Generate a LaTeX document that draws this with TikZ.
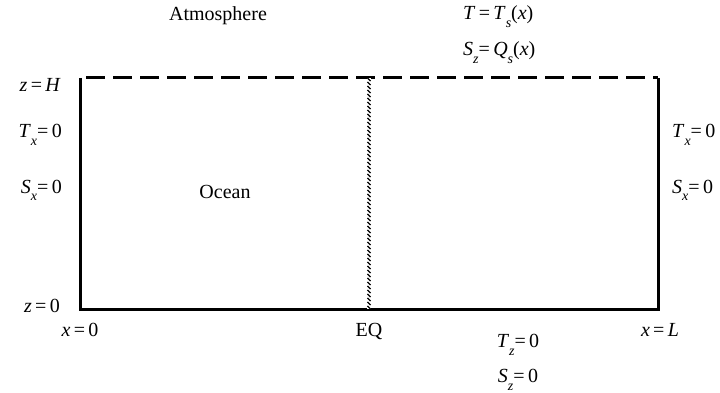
\documentclass[tikz,border=0pt]{standalone}
\usepackage{fontspec}
\setmainfont{Liberation Serif}
\usepackage{tikz}
\usetikzlibrary{positioning}
\newcommand{\vr}[1]{\textit{#1}}
\newcommand{\lowsub}[1]{\raisebox{-0.4em}{\fontsize{14}{14}\selectfont\itshape #1}}
\tikzstyle{lbl} = [inner sep=0pt, font=\fontsize{20}{24}\selectfont]
\tikzstyle{wall} = [line width=3pt, line join=miter]
\tikzstyle{surface} = [line width=3pt, dash pattern=on 19pt off 8pt, dash phase=-6pt]
\tikzstyle{rope} = [line width=1.2pt]

\begin{document}
\begin{tikzpicture}[x=1pt, y=-1pt]
    \useasboundingbox (0,0) rectangle (720,393);
    % Box corners
    \coordinate (nw) at (80,78);
    \coordinate (ne) at (658,78);
    \coordinate (sw) at (80,309);
    \coordinate (se) at (658,309);
    \coordinate (eqtop) at (369,78);
    \coordinate (eqbot) at (369,309);

    % Walls and surface
    \draw [wall] (nw) -- (sw) -- (se) -- (ne);
    \draw [surface] (nw) -- (ne);
    \fill [white] ([xshift=-2.2pt]eqtop) rectangle ([xshift=2.2pt]eqbot);
    \foreach \y in {0,4,...,228}
        \draw [rope] ([shift={(-1.6,\y)}]eqtop) -- ([shift={(1.6,\y+3)}]eqtop);

    % Labels
    \node [lbl, anchor=base] (atmos) at (218,21) {Atmosphere};
    \node [lbl, anchor=base west] (tsurf) at (463,20) {\vr{T}\,=\,\vr{T}\lowsub{s}(\vr{x})};
    \node [lbl, anchor=base west] (ssurf) at (463,56) {\vr{S}\lowsub{z}=\,\vr{Q}\lowsub{s}(\vr{x})};
    \node [lbl, anchor=base east] (ztop) at (61,92) {\vr{z}\,=\,\vr{H}};
    \node [lbl, anchor=base east] (txleft) at (62,138) {\vr{T}\lowsub{x}=\,0};
    \node [lbl, anchor=base east] (sxleft) at (62,193) {\vr{S}\lowsub{x}=\,0};
    \node [lbl, anchor=base west] (txright) at (672,138) {\vr{T}\lowsub{x}=\,0};
    \node [lbl, anchor=base west] (sxright) at (672,193) {\vr{S}\lowsub{x}=\,0};
    \node [lbl, anchor=base] (ocean) at (225,198) {Ocean};
    \node [lbl, anchor=base east] (zbot) at (60,312) {\vr{z}\,=\,0};
    \node [lbl, anchor=base] (xzero) at (80,336) {\vr{x}\,=\,0};
    \node [lbl, anchor=base] (eq) at (369,336) {EQ};
    \node [lbl, anchor=base] (xend) at (660,336) {\vr{x}\,=\,\vr{L}};
    \node [lbl, anchor=base] (tzbot) at (518,347) {\vr{T}\lowsub{z}=\,0};
    \node [lbl, anchor=base] (szbot) at (518,382) {\vr{S}\lowsub{z}=\,0};
\end{tikzpicture}
\end{document}
